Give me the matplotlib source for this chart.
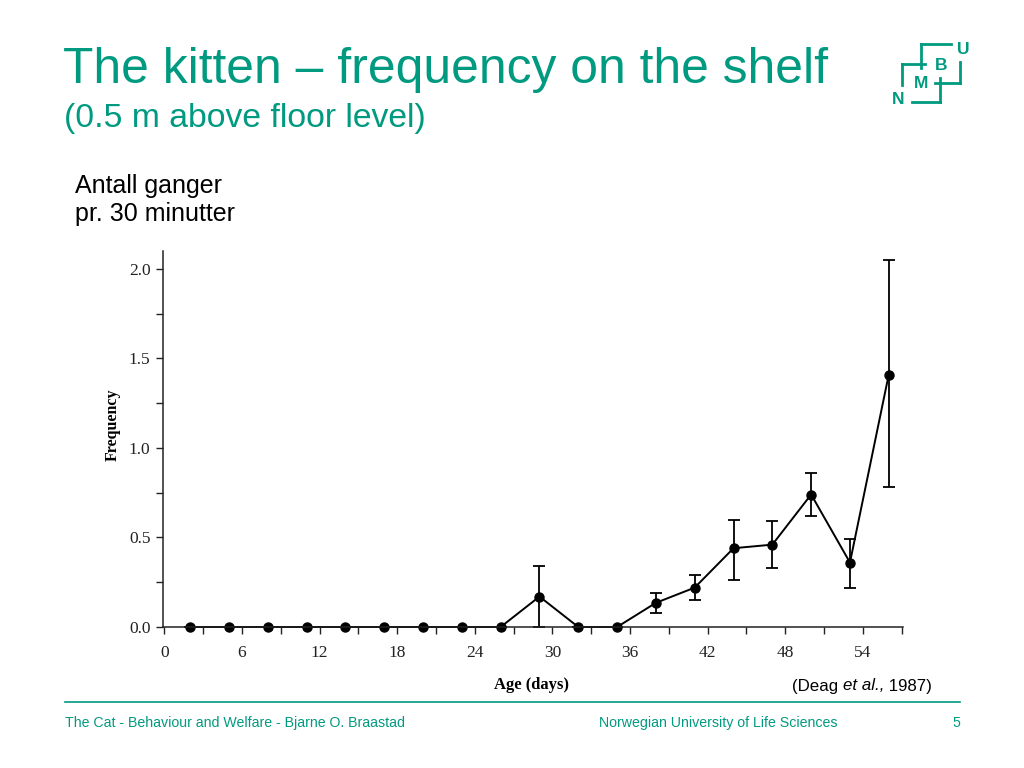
import matplotlib.pyplot as plt
from matplotlib.lines import Line2D

# data (Deag et al., 1987)
age_days = [2, 5, 8, 11, 14, 17, 20, 23, 26, 29, 32, 35, 38, 41, 44, 47, 50, 53, 56]
frequency = [0, 0, 0, 0, 0, 0, 0, 0, 0, 0.17, 0, 0, 0.135, 0.22, 0.44, 0.46, 0.74, 0.36, 1.41]
# lower and upper ends of the error bars
err_low = [0, 0, 0, 0, 0, 0, 0, 0, 0, 0.0, 0, 0, 0.08, 0.15, 0.26, 0.33, 0.62, 0.22, 0.78]
err_high = [0, 0, 0, 0, 0, 0, 0, 0, 0, 0.34, 0, 0, 0.19, 0.29, 0.60, 0.59, 0.86, 0.49, 2.05]

x_major = [0, 6, 12, 18, 24, 30, 36, 42, 48, 54]
y_major = [0.0, 0.5, 1.0, 1.5, 2.0]

GREEN = '#009a80'
SANS = 'Liberation Sans'
SERIF = 'Liberation Serif'

fig = plt.figure(figsize=(10.24, 7.68), dpi=100)

# slide layer in pixel coordinates
bg = fig.add_axes([0, 0, 1, 1])
bg.set_xlim(0, 1024)
bg.set_ylim(768, 0)
bg.axis('off')

bg.text(63, 70, 'The kitten \u2013 frequency on the shelf', color=GREEN,
        fontsize=35.8, family=SANS, va='center', ha='left')
bg.text(64, 119, '(0.5 m above floor level)', color=GREEN,
        fontsize=24.3, family=SANS, va='center', ha='left')
bg.text(75, 200, 'Antall ganger\npr. 30 minutter', color='black',
        fontsize=18, family=SANS, va='center', ha='left', linespacing=1.25)

# logo
logo_lines = [
    ((920.7, 950.7), (44, 44)),
    ((920.7, 920.7), (44, 68)),
    ((901.7, 925), (64.3, 64.3)),
    ((901.7, 901.7), (64.3, 85)),
    ((960, 960), (61.7, 83.3)),
    ((935, 960), (83.3, 83.3)),
    ((940, 940), (78.3, 101.7)),
    ((911.7, 940), (101.7, 101.7)),
]
for xs, ys in logo_lines:
    bg.add_line(Line2D(xs, ys, color=GREEN, lw=2))
for s, (lx, ly) in zip('UBMN', [(963.5, 50), (941, 65), (920.7, 84), (898.3, 99)]):
    bg.text(lx, ly, s, color=GREEN, fontsize=12.5, fontweight='bold',
            family=SANS, ha='center', va='center')

# footer
bg.add_line(Line2D((65, 960), (702, 702), color=GREEN, lw=1.2))
bg.text(65, 723, 'The Cat - Behaviour and Welfare - Bjarne O. Braastad', color=GREEN,
        fontsize=10.2, family=SANS, va='center', ha='left')
bg.text(599, 723, 'Norwegian University of Life Sciences', color=GREEN,
        fontsize=10.2, family=SANS, va='center', ha='left')
bg.text(960, 723, '5', color=GREEN, fontsize=10.2, family=SANS, va='center', ha='right')

# source reference, italic part chained after the plain part
t1 = bg.text(792, 686, '(Deag ', color='black', fontsize=12.2, family=SANS,
             va='center', ha='left')
t2 = bg.annotate('et al.,', xy=(1, 0), xycoords=t1, color='black', fontsize=12.2,
                 family=SANS, style='italic', va='bottom', ha='left')
bg.annotate(' 1987)', xy=(1, 0), xycoords=t2, color='black', fontsize=12.2,
            family=SANS, va='bottom', ha='left')

# the chart
yerr_minus = [y - lo for y, lo in zip(frequency, err_low)]
yerr_plus = [hi - y for y, hi in zip(frequency, err_high)]

ax = fig.add_axes([163 / 1024, 141 / 768, 740 / 1024, 376 / 768])
ax.patch.set_alpha(0)
ax.errorbar(age_days, frequency, yerr=[yerr_minus, yerr_plus], color='black',
            lw=1.4, marker='o', markersize=6.5, ecolor='black', elinewidth=1.3,
            capsize=4, capthick=1.3, clip_on=False)
ax.set_xlim(-0.1, 57.1)
ax.set_ylim(0, 2.1)
ax.set_xticks(x_major)
ax.set_xticks(range(0, 58, 3), minor=True)
ax.set_yticks(y_major)
ax.set_yticks([0.25, 0.75, 1.25, 1.75], minor=True)
ax.set_yticklabels([f'{v:.1f}' for v in y_major])
for side in ('top', 'right'):
    ax.spines[side].set_visible(False)
for side in ('left', 'bottom'):
    ax.spines[side].set_linewidth(1.1)
    ax.spines[side].set_color('#222222')
ax.tick_params(which='both', direction='out', length=5, width=1, color='#222222')
ax.tick_params(axis='x', pad=8)
ax.tick_params(axis='y', pad=4)
for lab in ax.get_xticklabels() + ax.get_yticklabels():
    lab.set_family(SERIF)
    lab.set_fontsize(12.5)
    lab.set_color('#222222')

fig.text(113 / 1024, 1 - 425 / 768, 'Frequency', rotation=90, family=SERIF,
         fontweight='bold', fontsize=11.5, ha='center', va='center')
fig.text(532 / 1024, 1 - 685 / 768, 'Age (days)', family=SERIF,
         fontweight='bold', fontsize=12, ha='center', va='center')

fig.savefig('out.png', dpi=100)
